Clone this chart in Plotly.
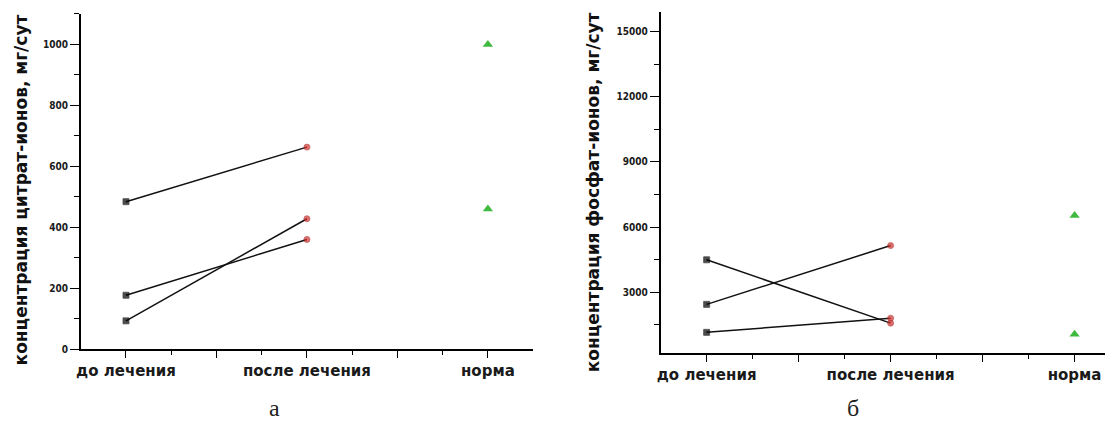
import plotly.graph_objects as go

W, H = 1113, 432
OFF = 8  # page body margin offset (screen px -> figure px)

# ---- data ----
CAT_POS = [1, 2, 3]
CAT_LABELS = ["до лечения", "после лечения", "норма"]

citrate_before = [484, 177, 93]
citrate_after = [663, 360, 428]
citrate_norm = [1000, 460]

phosphate_before = [4495, 2445, 1157]
phosphate_after = [1580, 5150, 1808]
phosphate_norm = [6530, 1066]

LEFT_TITLE = "концентрация цитрат-ионов, мг/сут"
RIGHT_TITLE = "концентрация фосфат-ионов, мг/сут"
PANEL_LABELS = ["а", "б"]

citrate_ticks = [0, 200, 400, 600, 800, 1000]
citrate_minor = [100, 300, 500, 700, 900, 1100]
phosphate_ticks = [3000, 6000, 9000, 12000, 15000]
phosphate_minor = [1500, 4500, 7500, 10500, 13500]

RED = "#d0322e"
RED_EDGE = "#a8201c"
GREEN = "#3fba3f"


def px(xs):
    return (xs - OFF) / W


def py(ys):
    return (H - (ys - OFF)) / H


fig = go.Figure()


def add_panel(before, after, norm, xa, ya):
    for b, a in zip(before, after):
        fig.add_trace(go.Scatter(
            x=[CAT_POS[0], CAT_POS[1]], y=[b, a], mode="lines+markers",
            line=dict(color="#111111", width=1.5),
            marker=dict(symbol=["square", "circle"], size=[6, 6],
                        color=["#000000", RED],
                        line=dict(color=["#000000", RED_EDGE], width=0.8)),
            xaxis=xa, yaxis=ya, showlegend=False, hoverinfo="skip"))
    fig.add_trace(go.Scatter(
        x=[CAT_POS[2]] * len(norm), y=norm, mode="markers",
        marker=dict(symbol="triangle-up", size=9, color=GREEN,
                    line=dict(width=0)),
        xaxis=xa, yaxis=ya, showlegend=False, hoverinfo="skip"))


add_panel(citrate_before, citrate_after, citrate_norm, "x", "y")
add_panel(phosphate_before, phosphate_after, phosphate_norm, "x2", "y2")

major_x = [1, 1.5, 2, 2.5, 3]
major_x_text = [CAT_LABELS[0], "", CAT_LABELS[1], "", CAT_LABELS[2]]
minor_x = [1.25, 1.75, 2.25, 2.75]

xfont = dict(family="DejaVu Sans", size=15, color="#1a1a1a", weight="bold")
yfont = dict(family="DejaVu Sans Condensed, DejaVu Sans", size=10,
             color="#1a1a1a", weight="bold")


def xaxis(domain, rng, anchor):
    return dict(domain=domain, range=rng, anchor=anchor,
                tickmode="array", tickvals=major_x, ticktext=major_x_text,
                ticks="outside", ticklen=7, tickwidth=1.4, tickcolor="black",
                minor=dict(tickvals=minor_x, ticks="outside", ticklen=4,
                           tickwidth=1.2, tickcolor="black"),
                showline=True, linecolor="black", linewidth=1.6,
                showgrid=False, zeroline=False, tickfont=xfont)


def yaxis(domain, rng, anchor, tv, mv):
    return dict(domain=domain, range=rng, anchor=anchor,
                tickmode="array", tickvals=tv, ticktext=[str(v) for v in tv],
                ticks="outside", ticklen=9, tickwidth=1.4, tickcolor="black",
                minor=dict(tickvals=mv, ticks="outside", ticklen=5,
                           tickwidth=1.2, tickcolor="black"),
                showline=True, linecolor="black", linewidth=1.6,
                showgrid=False, zeroline=False, tickfont=yfont)


fig.update_layout(
    width=W, height=H,
    margin=dict(l=0, r=0, t=0, b=0),
    paper_bgcolor="white", plot_bgcolor="white",
    xaxis=xaxis([px(77), px(531)], [0.75, 3.25], "y"),
    yaxis=yaxis([py(354), py(14)], [0, 1100], "x",
                citrate_ticks, citrate_minor),
    xaxis2=xaxis([px(659), px(1113)], [0.75, 3.209], "y2"),
    yaxis2=yaxis([py(358), py(12)], [200, 15900], "x2",
                 phosphate_ticks, phosphate_minor),
)

title_font = dict(family="DejaVu Sans", size=17, color="#111111",
                  weight="bold")
fig.add_annotation(text=LEFT_TITLE, xref="paper", yref="paper",
                   x=px(17), y=py(192), xanchor="center", yanchor="middle",
                   textangle=-90, showarrow=False, font=title_font)
fig.add_annotation(text=RIGHT_TITLE, xref="paper", yref="paper",
                   x=px(591), y=py(195), xanchor="center", yanchor="middle",
                   textangle=-90, showarrow=False, font=title_font)

label_font = dict(family="Liberation Serif, Times New Roman", size=24,
                  color="#222222")
fig.add_annotation(text=PANEL_LABELS[0], xref="paper", yref="paper",
                   x=px(271), y=py(414), xanchor="center", yanchor="middle",
                   showarrow=False, font=label_font)
fig.add_annotation(text=PANEL_LABELS[1], xref="paper", yref="paper",
                   x=px(852), y=py(414), xanchor="center", yanchor="middle",
                   showarrow=False, font=label_font)

fig.write_html("out.html")
